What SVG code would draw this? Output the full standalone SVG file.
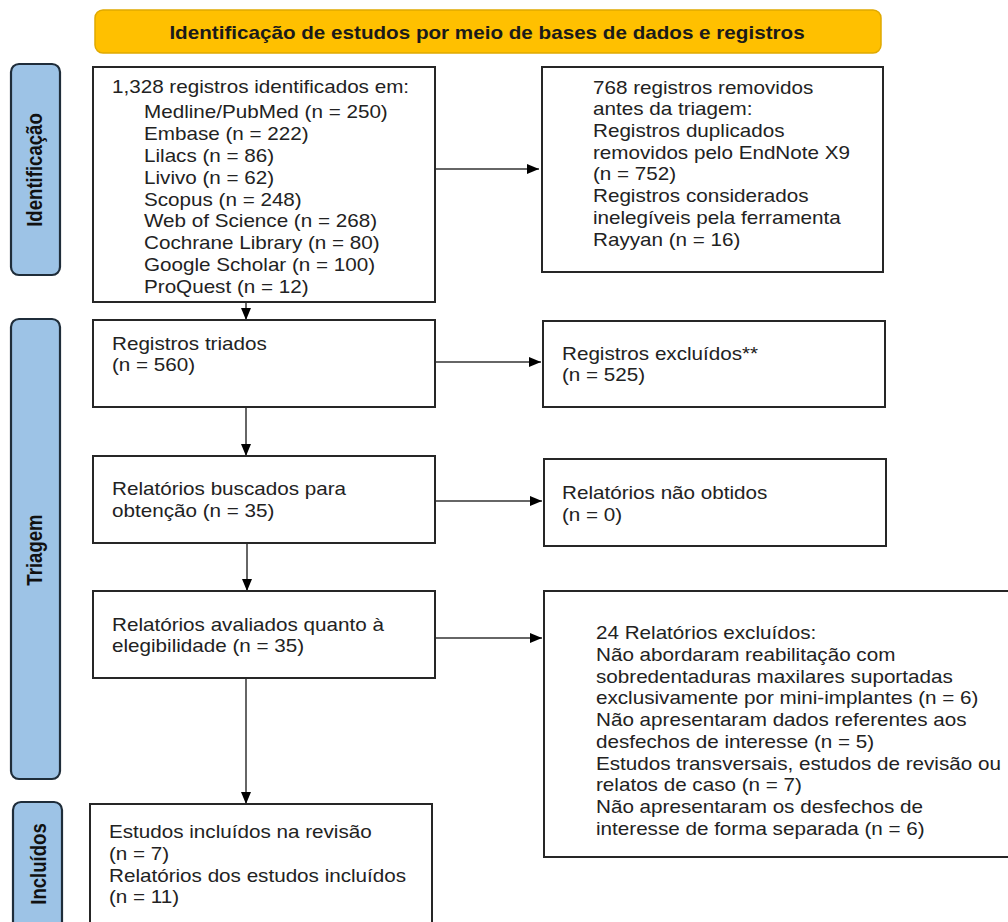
<svg xmlns="http://www.w3.org/2000/svg" width="1008" height="922" viewBox="0 0 1008 922">
<defs>
<style>
.bg{fill:#ffffff}
.box{fill:#ffffff;stroke:#262626;stroke-width:2}
.lab{fill:#9dc3e6;stroke:#1f2d3a;stroke-width:2.2}
.ban{fill:#ffc000;stroke:#e0a900;stroke-width:1.5}
.t{font-family:"Liberation Sans",Arial,sans-serif;font-size:17.5px;fill:#222222}
.tb{font-family:"Liberation Sans",Arial,sans-serif;font-size:17.5px;font-weight:bold;fill:#1a1a1a}
.tl{font-family:"Liberation Sans",Arial,sans-serif;font-size:18.6px;font-weight:bold;fill:#111111}
.con{stroke:#333333;stroke-width:1.5;fill:none}
</style>
<marker id="arr" viewBox="0 0 12 10" refX="12" refY="5" markerWidth="12" markerHeight="10" markerUnits="userSpaceOnUse" orient="auto">
<path d="M0,0 L12,5 L0,10 z" fill="#000000"/>
</marker>
</defs>
<rect class="bg" x="0" y="0" width="1008" height="922"/>

<g id="banner">
<rect class="ban" x="95" y="10" width="786" height="43" rx="8"/>
<g transform="translate(487,0) scale(1.18,1)"><text class="tb" x="0" y="39" text-anchor="middle">Identificação de estudos por meio de bases de dados e registros</text></g>
</g>

<g id="label-identificacao">
<rect class="lab" x="11" y="64" width="49" height="211" rx="8"/>
<g transform="translate(42,170) scale(1.18,1) rotate(-90)"><text class="tl" x="0" y="0" text-anchor="middle">Identificação</text></g>
</g>

<g id="label-triagem">
<rect class="lab" x="11" y="319" width="49" height="460" rx="8"/>
<g transform="translate(42,550) scale(1.18,1) rotate(-90)"><text class="tl" x="0" y="0" text-anchor="middle">Triagem</text></g>
</g>

<g id="label-incluidos">
<rect class="lab" x="13" y="802" width="49" height="140" rx="8"/>
<g transform="translate(46,864) scale(1.18,1) rotate(-90)"><text class="tl" x="0" y="0" text-anchor="middle">Incluídos</text></g>
</g>

<g id="connectors">
<line class="con" x1="435" y1="169" x2="539" y2="169" marker-end="url(#arr)"/>
<line class="con" x1="246" y1="302" x2="246" y2="320" marker-end="url(#arr)"/>
<line class="con" x1="435" y1="362" x2="541" y2="362" marker-end="url(#arr)"/>
<line class="con" x1="246" y1="407" x2="246" y2="456" marker-end="url(#arr)"/>
<line class="con" x1="435" y1="501" x2="542" y2="501" marker-end="url(#arr)"/>
<line class="con" x1="247" y1="543" x2="247" y2="591" marker-end="url(#arr)"/>
<line class="con" x1="435" y1="638" x2="542" y2="638" marker-end="url(#arr)"/>
<line class="con" x1="246" y1="678" x2="246" y2="804" marker-end="url(#arr)"/>
</g>

<g id="n-identificados">
<rect class="box" x="93" y="67" width="342" height="235"/>
<g transform="translate(112,0) scale(1.18,1)"><text class="t" x="0" y="93.5">1,328 registros identificados em:</text></g>
<g transform="translate(144,0) scale(1.18,1)"><text class="t">
<tspan x="0" y="118">Medline/PubMed (n = 250)</tspan>
<tspan x="0" y="140">Embase (n = 222)</tspan>
<tspan x="0" y="162">Lilacs (n = 86)</tspan>
<tspan x="0" y="184">Livivo (n = 62)</tspan>
<tspan x="0" y="205.7">Scopus (n = 248)</tspan>
<tspan x="0" y="227.5">Web of Science (n = 268)</tspan>
<tspan x="0" y="249.3">Cochrane Library (n = 80)</tspan>
<tspan x="0" y="271">Google Scholar (n = 100)</tspan>
<tspan x="0" y="292.7">ProQuest (n = 12)</tspan>
</text></g>
</g>

<g id="n-removidos">
<rect class="box" x="542" y="67" width="341" height="205"/>
<g transform="translate(593,0) scale(1.18,1)"><text class="t">
<tspan x="0" y="93.7">768 registros removidos</tspan>
<tspan x="0" y="115.4">antes da triagem:</tspan>
<tspan x="0" y="137.1">Registros duplicados</tspan>
<tspan x="0" y="158.8">removidos pelo EndNote X9</tspan>
<tspan x="0" y="180.5">(n = 752)</tspan>
<tspan x="0" y="202.2">Registros considerados</tspan>
<tspan x="0" y="223.9">inelegíveis pela ferramenta</tspan>
<tspan x="0" y="245.6">Rayyan (n = 16)</tspan>
</text></g>
</g>

<g id="n-triados">
<rect class="box" x="93" y="320" width="342" height="87"/>
<g transform="translate(112,0) scale(1.18,1)"><text class="t">
<tspan x="0" y="350">Registros triados</tspan>
<tspan x="0" y="371.5">(n = 560)</tspan>
</text></g>
</g>

<g id="n-excluidos">
<rect class="box" x="543" y="321" width="342" height="86"/>
<g transform="translate(562,0) scale(1.18,1)"><text class="t">
<tspan x="0" y="360">Registros excluídos**</tspan>
<tspan x="0" y="381.5">(n = 525)</tspan>
</text></g>
</g>

<g id="n-buscados">
<rect class="box" x="93" y="456" width="342" height="87"/>
<g transform="translate(112,0) scale(1.18,1)"><text class="t">
<tspan x="0" y="495">Relatórios buscados para</tspan>
<tspan x="0" y="516.7">obtenção (n = 35)</tspan>
</text></g>
</g>

<g id="n-nao-obtidos">
<rect class="box" x="544" y="459" width="342" height="87"/>
<g transform="translate(562,0) scale(1.18,1)"><text class="t">
<tspan x="0" y="499">Relatórios não obtidos</tspan>
<tspan x="0" y="520.7">(n = 0)</tspan>
</text></g>
</g>

<g id="n-avaliados">
<rect class="box" x="93" y="591" width="342" height="87"/>
<g transform="translate(112,0) scale(1.18,1)"><text class="t">
<tspan x="0" y="630.6">Relatórios avaliados quanto à</tspan>
<tspan x="0" y="652.3">elegibilidade (n = 35)</tspan>
</text></g>
</g>

<g id="n-relatorios-excluidos">
<rect class="box" x="544" y="591" width="480" height="266"/>
<g transform="translate(596,0) scale(1.18,1)"><text class="t">
<tspan x="0" y="639.3">24 Relatórios excluídos:</tspan>
<tspan x="0" y="661">Não abordaram reabilitação com</tspan>
<tspan x="0" y="682.7">sobredentaduras maxilares suportadas</tspan>
<tspan x="0" y="704.4">exclusivamente por mini-implantes (n = 6)</tspan>
<tspan x="0" y="726.1">Não apresentaram dados referentes aos</tspan>
<tspan x="0" y="747.8">desfechos de interesse (n = 5)</tspan>
<tspan x="0" y="769.5">Estudos transversais, estudos de revisão ou</tspan>
<tspan x="0" y="791.2">relatos de caso (n = 7)</tspan>
<tspan x="0" y="812.9">Não apresentaram os desfechos de</tspan>
<tspan x="0" y="834.6">interesse de forma separada (n = 6)</tspan>
</text></g>
</g>

<g id="n-incluidos">
<rect class="box" x="90" y="804" width="342" height="140"/>
<g transform="translate(109,0) scale(1.18,1)"><text class="t">
<tspan x="0" y="838.3">Estudos incluídos na revisão</tspan>
<tspan x="0" y="860">(n = 7)</tspan>
<tspan x="0" y="881.7">Relatórios dos estudos incluídos</tspan>
<tspan x="0" y="903.3">(n = 11)</tspan>
</text></g>
</g>
</svg>
